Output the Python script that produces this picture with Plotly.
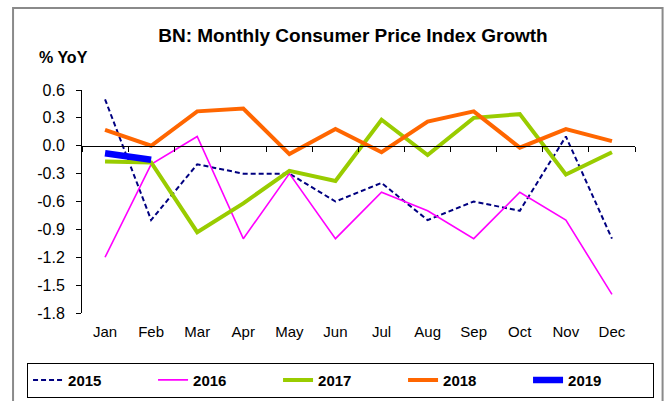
import plotly.graph_objects as go

# Brunei monthly CPI, % year on year
months = ["Jan", "Feb", "Mar", "Apr", "May", "Jun",
          "Jul", "Aug", "Sep", "Oct", "Nov", "Dec"]
cpi_2015 = [0.5, -0.8, -0.2, -0.3, -0.3, -0.6, -0.4, -0.8, -0.6, -0.7, 0.1, -1.0]
cpi_2016 = [-1.2, -0.2, 0.1, -1.0, -0.3, -1.0, -0.5, -0.7, -1.0, -0.5, -0.8, -1.6]
cpi_2017 = [-0.17, -0.18, -0.93, -0.62, -0.27, -0.38, 0.28, -0.10, 0.30, 0.34, -0.31, -0.07]
cpi_2018 = [0.17, 0.0, 0.37, 0.40, -0.09, 0.18, -0.07, 0.26, 0.37, -0.02, 0.18, 0.05]
cpi_2019 = [-0.08, -0.15]

y_ticks = [0.6, 0.3, 0.0, -0.3, -0.6, -0.9, -1.2, -1.5, -1.8]
y_min, y_max = -1.8, 0.6

series = [
    ("2015", cpi_2015, dict(color="#000080", width=2, dash="5px,3px")),
    ("2016", cpi_2016, dict(color="#FF00FF", width=1.6)),
    ("2017", cpi_2017, dict(color="#99CC00", width=4)),
    ("2018", cpi_2018, dict(color="#FF6600", width=4)),
    ("2019", cpi_2019, dict(color="#0000FF", width=6.5)),
]

xs = list(range(len(months)))
fig = go.Figure()
for name, vals, line in series:
    fig.add_trace(go.Scatter(x=xs[:len(vals)], y=vals, name=f"<b>{name}</b>",
                             mode="lines", line=line, xaxis="x", yaxis="y"))

# carrier trace for the month label axis
fig.add_trace(go.Scatter(x=[], y=[], xaxis="x2", yaxis="y", showlegend=False,
                         hoverinfo="skip"))

font_main = "Arial, Liberation Sans, sans-serif"
zero_pos = (0 - y_min) / (y_max - y_min)

fig.update_layout(
    width=669, height=401,
    margin=dict(l=82, r=34, t=90, b=88, autoexpand=False),
    paper_bgcolor="white", plot_bgcolor="white",
    font=dict(family=font_main, color="black", size=14),
    title=dict(text="<b>BN: Monthly Consumer Price Index Growth</b>",
               x=0.49, xref="paper", xanchor="center",
               y=1 - 35 / 401, yref="container", yanchor="middle",
               font=dict(size=19, family=font_main, color="black")),
    xaxis=dict(range=[-0.5, 11.5], anchor="free", position=zero_pos,
               showline=True, linecolor="black", linewidth=1,
               ticks="outside", ticklen=5, tickcolor="black",
               tickvals=[i - 0.5 for i in range(13)],
               showticklabels=False, showgrid=False, zeroline=False),
    xaxis2=dict(range=[-0.5, 11.5], overlaying="x", anchor="y", side="bottom",
                tickvals=xs, ticktext=months, ticks="", showline=False,
                showgrid=False, zeroline=False, ticklabelstandoff=8,
                tickfont=dict(size=15)),
    yaxis=dict(range=[y_min, y_max], tickvals=y_ticks,
               ticktext=[f"{v:.1f}" for v in y_ticks],
               showline=True, linecolor="black", linewidth=1,
               ticks="outside", ticklen=5, tickcolor="black",
               showgrid=False, zeroline=False, ticklabelstandoff=8,
               tickfont=dict(size=16)),
    legend=dict(orientation="h", x=(27 - 82) / 553.4, xanchor="left",
                y=(313.3 - 363) / 223.3, yanchor="top",
                bordercolor="black", borderwidth=1,
                entrywidth=80, entrywidthmode="pixels",
                font=dict(size=15, family=font_main, color="black")),
    annotations=[dict(text="<b>% YoY</b>", xref="paper", yref="paper",
                      x=(37 - 82) / 553.4, y=(313.3 - 57) / 223.3,
                      xanchor="left", yanchor="middle", showarrow=False,
                      font=dict(size=16, family=font_main, color="black"))],
    shapes=[dict(type="rect", xref="paper", yref="paper",
                 x0=(13 - 82) / 553.4, x1=(663 - 82) / 553.4,
                 y0=(313.3 - 420) / 223.3, y1=(313.3 - 8) / 223.3,
                 line=dict(color="#8a8a8a", width=2), layer="below")],
)

fig.write_html("out.html")
